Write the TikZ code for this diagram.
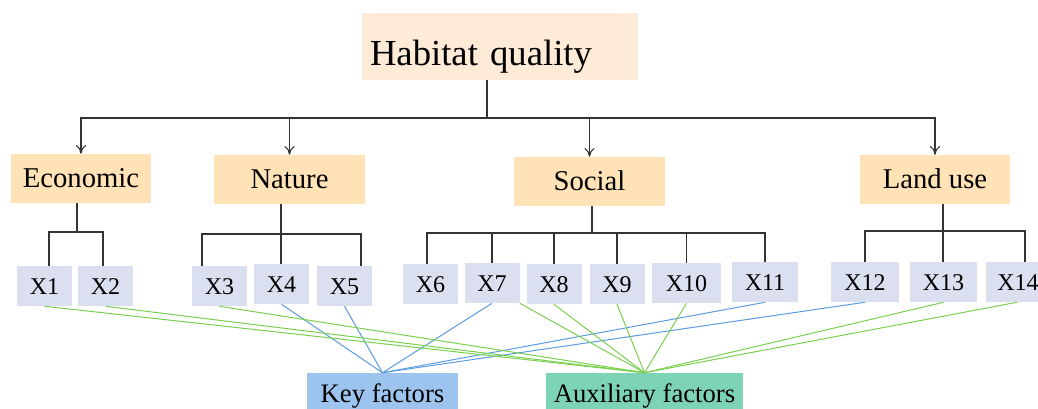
\documentclass[tikz,border=0pt]{standalone}
\usepackage{fontspec}
\setmainfont{Liberation Serif}
\usetikzlibrary{arrows,arrows.meta,positioning}
\definecolor{hqfill}{HTML}{FDEBD7}
\definecolor{catfill}{HTML}{FFE2B6}
\definecolor{varfill}{HTML}{DAE0F0}
\definecolor{keyfill}{HTML}{9CC4EE}
\definecolor{auxfill}{HTML}{7DD3B6}
\definecolor{keyline}{HTML}{5B9BE0}
\definecolor{auxline}{HTML}{7ACF4E}
\tikzset{>={To[length=6.5pt,width=7.5pt]}}
\tikzset{tree/.style={draw=black!80,line width=0.8pt}}

\begin{document}
\begin{tikzpicture}[x=0.75pt,y=-0.75pt,
  hqbox/.style={fill=hqfill,inner xsep=6pt,inner ysep=0pt,text width=195pt,align=left,
    minimum height=50.25pt,text height=28pt,text depth=0pt,font=\fontsize{27.5}{31}\selectfont},
  catbox/.style={fill=catfill,inner sep=0pt,minimum width=113pt,minimum height=36.75pt,
    text height=14pt,text depth=1pt,font=\fontsize{21.5}{25}\selectfont},
  varbox/.style={fill=varfill,inner sep=0pt,minimum width=41.25pt,minimum height=30pt,
    text height=12.5pt,text depth=0pt,font=\fontsize{18}{21}\selectfont},
  factbox/.style={inner sep=0pt,minimum height=33pt,
    text height=12pt,text depth=1pt,font=\fontsize{20}{24}\selectfont},
  keyedge/.style={draw=keyline,line width=0.75pt},
  auxedge/.style={draw=auxline,line width=0.75pt}]
\useasboundingbox (0,0) rectangle (1038,409);
% top level
\node (hq) [hqbox] at (500,46.5) {Habitat quality};
\node (eco) [catbox,minimum width=105pt] at (81,178.5) {Economic};
\node (nat) [catbox] at (289.5,179.5) {Nature};
\node (soc) [catbox] at (589.5,181.5) {Social};
\node (land) [catbox,minimum width=112.5pt] at (935,179.5) {Land use};
%
\node (x1) [varbox] at (44.5,286) {X1};
\node (x2) [varbox] at (105.5,286) {X2};
\node (x3) [varbox] at (219.5,286) {X3};
\node (x4) [varbox] at (281.5,284) {X4};
\node (x5) [varbox] at (344.5,286) {X5};
\node (x6) [varbox] at (430.5,284) {X6};
\node (x7) [varbox] at (492,283) {X7};
\node (x8) [varbox] at (554,284) {X8};
\node (x9) [varbox] at (617,284) {X9};
\node (x10) [varbox,minimum width=51.75pt] at (686.5,283) {X10};
\node (x11) [varbox,minimum width=49.5pt] at (765,282) {X11};
\node (x12) [varbox,minimum width=51pt] at (865,282) {X12};
\node (x13) [varbox,minimum width=50.25pt] at (943.5,282) {X13};
\node (x14) [varbox,minimum width=48pt] at (1018,282) {X14};
%
\node (key) [factbox,fill=keyfill,minimum width=113.25pt] at (382.5,395) {Key factors};
\node (aux) [factbox,fill=auxfill,minimum width=147.75pt] at (644.5,395) {Auxiliary factors};

% tree
\coordinate (hub) at (487,118);
\draw[tree] (hq.south -| hub) -- (hub);
\draw[tree,->] (hub) -| (eco.north);
\draw[tree,->] (hub) -| (nat.north);
\draw[tree,->] (hub) -| (soc.north);
\draw[tree,->] (hub) -| (land.north);
%
\coordinate (ecobar) at (77,232);
\draw[tree] (eco.south -| ecobar) -- (ecobar);
\draw[tree] (x1.north -| 49,0) |- (ecobar) -| (x2.north -| 103,0);
\coordinate (natbar) at (281,234);
\draw[tree] (nat.south -| natbar) -- (x4.north -| natbar);
\draw[tree] (x3.north -| 202,0) |- (natbar) -| (x5.north -| 361,0);
\coordinate (socbar) at (592,233);
\draw[tree] (soc.south -| socbar) -- (socbar);
\draw[tree] (x6.north -| 427,0) |- (socbar) -| (x11.north);
\foreach \v in {x7,x8,x9,x10}
  \draw[tree] (\v.north) -- (\v.north |- socbar);
\coordinate (landbar) at (943,231);
\draw[tree] (land.south -| landbar) -- (x13.north -| landbar);
\draw[tree] (x12.north) |- (landbar) -| (x14.north -| 1025,0);

% factor links
\foreach \v in {x4,x5,x7,x11,x12}
  \draw[keyedge] (\v.south) -- (key.north);
\foreach \v in {x1,x2,x3,x8,x9,x10,x13}
  \draw[auxedge] (\v.south) -- (aux.north);
\draw[auxedge] (x7.south east) -- (aux.north);
\draw[auxedge] (x14.south -| 1017,0) -- (aux.north);
\end{tikzpicture}
\end{document}
